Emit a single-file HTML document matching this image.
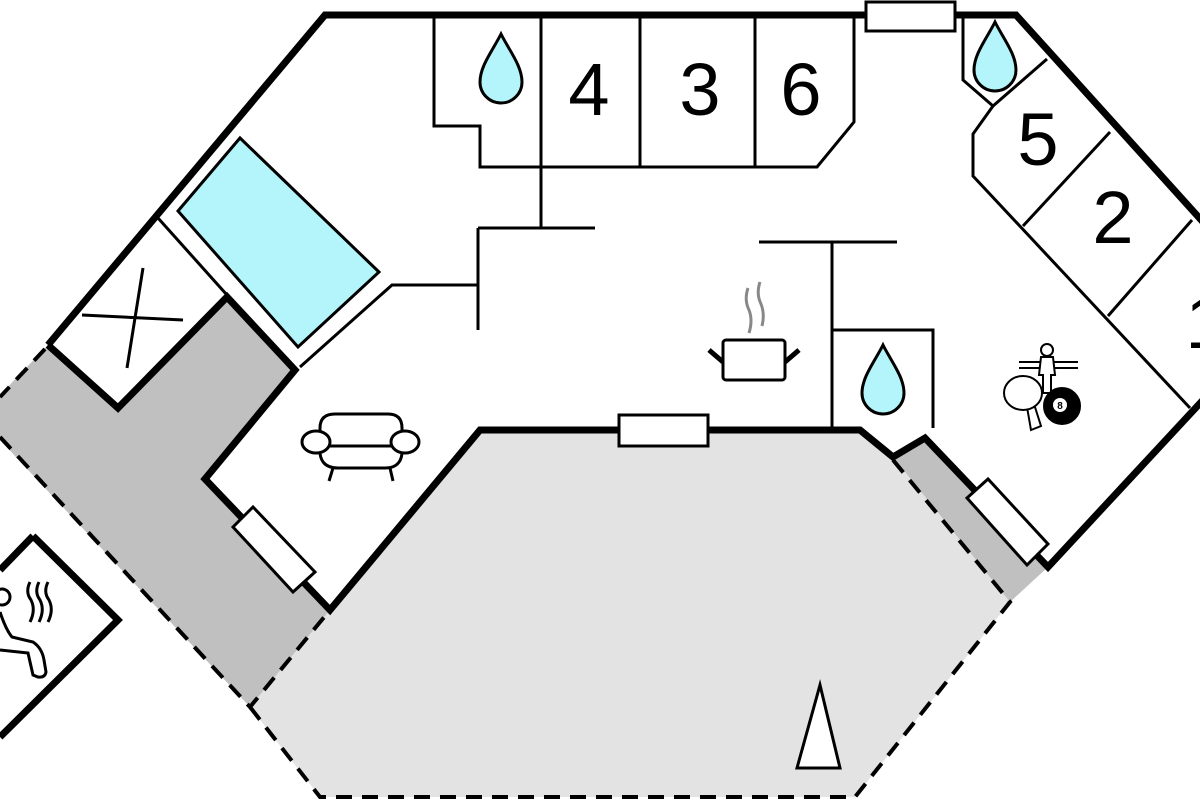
<!DOCTYPE html>
<html><head><meta charset="utf-8"><style>html,body{margin:0;padding:0;background:#fff}svg{display:block}</style></head>
<body>
<svg width="1200" height="800" viewBox="0 0 1200 800" xmlns="http://www.w3.org/2000/svg">
<defs>
<path id="drop" d="M0,-38 C8,-22 21,-6 21,10 A21,21 0 0 1 -21,10 C-21,-6 -8,-22 0,-38 Z"/>
</defs>
<!-- patio light gray -->
<polygon points="480,430 860,430 893,457 1010,602 855,797 320,797 250,707 330,610" fill="#e3e3e3"/>
<!-- dark gray areas -->
<polygon points="0,395 48,345 118,408 227,297 295,370 205,479 330,610 250,707 0,440" fill="#c0c0c0"/>
<polygon points="893,457 925,438 1048,567 1010,602" fill="#c0c0c0"/>
<!-- pool -->
<polygon points="178,211 240,138 379,272 298,347" fill="#b3f5fa" stroke="#000" stroke-width="3"/>
<!-- thin interior lines -->
<g fill="none" stroke="#000" stroke-width="3">
<polyline points="434,15 434,126 480,126 480,167 817,167 854,122 854,15"/>
<line x1="541" y1="15" x2="541" y2="228"/>
<line x1="640" y1="15" x2="640" y2="167"/>
<line x1="755" y1="15" x2="755" y2="167"/>
<line x1="478" y1="228" x2="595" y2="228"/>
<line x1="478" y1="228" x2="478" y2="330"/>
<polyline points="300,367 392,285 478,285"/>
<line x1="759" y1="242" x2="897" y2="242"/>
<line x1="832" y1="242" x2="832" y2="430"/>
<polyline points="832,330 933,330 933,428"/>
<polyline points="963,15 963,80 993,106 1047,59"/>
<polyline points="993,106 973,134 973,176 1190,408"/>
<line x1="1023" y1="226" x2="1110" y2="132"/>
<line x1="1108" y1="316" x2="1192" y2="220"/>
<line x1="158" y1="218" x2="227" y2="295"/>
<line x1="118" y1="408" x2="48" y2="345"/>
<!-- X -->
<line x1="82" y1="315" x2="183" y2="320"/>
<line x1="143" y1="268" x2="127" y2="368"/>
</g>
<!-- thick walls -->
<g fill="none" stroke="#000" stroke-width="7" stroke-linejoin="miter">
<polyline points="48,345 325,15 866,15"/>
<polyline points="955,15 1016,15 1203,222"/>
<polyline points="1203,400 1048,567 925,438 893,457 860,430 480,430 330,610 205,479 295,370 227,297 118,408 48,345"/>
<polyline points="33,536 118,620 0,737"/>
<line x1="33" y1="536" x2="0" y2="570"/>
</g>
<!-- dashed -->
<g fill="none" stroke="#000" stroke-width="4" stroke-dasharray="16,10">
<line x1="45" y1="349" x2="0" y2="397"/>
<polyline points="0,437 250,707 330,610"/>
<polyline points="250,707 320,797 855,797 1010,602 893,460"/>
</g>
<!-- windows/doors -->
<g fill="#fff" stroke="#000" stroke-width="3">
<rect x="866" y="2" width="89" height="29"/>
<rect x="619" y="415" width="89" height="31"/>
<polygon points="967,498 988,479 1048,544 1027,565"/>
<polygon points="233,527 253,507 315,572 293,592"/>
<polygon points="797,768 820,685 840,768"/>
</g>
<!-- drops -->
<g fill="#b3f5fa" stroke="#000" stroke-width="3">
<use href="#drop" transform="translate(501,72)"/>
<use href="#drop" transform="translate(995,60)"/>
<use href="#drop" transform="translate(883,383)"/>
</g>
<!-- numbers -->
<g font-family="Liberation Sans, sans-serif" font-size="74" text-anchor="middle" fill="#000">
<text x="589" y="115">4</text>
<text x="700" y="115">3</text>
<text x="801" y="115">6</text>
<text x="1038" y="165">5</text>
<text x="1113" y="243">2</text>
<text x="1206" y="348">1</text>
</g>
<!-- sofa -->
<g fill="#fff" stroke="#000" stroke-width="3">
<path d="M320,440 L320,428 Q320,414 335,414 L388,414 Q402,414 402,428 L402,440"/>
<path d="M320,446 Q318,468 338,468 L385,468 Q404,468 402,446 Z"/>
<line x1="332" y1="446" x2="392" y2="446"/>
<ellipse cx="316" cy="442" rx="14" ry="11"/>
<ellipse cx="405" cy="442" rx="14" ry="11"/>
<line x1="333" y1="468" x2="329" y2="481"/>
<line x1="390" y1="468" x2="393" y2="481"/>
</g>
<!-- pot -->
<g fill="#fff" stroke="#000" stroke-width="3">
<rect x="723" y="340" width="62" height="40" rx="3"/>
<line x1="709" y1="350" x2="723" y2="362" stroke-width="5"/>
<line x1="799" y1="350" x2="785" y2="362" stroke-width="5"/>
<path d="M748,288 Q744,300 749,310 Q753,320 749,333" fill="none" stroke="#888"/>
<path d="M760,282 Q756,294 761,304 Q765,314 762,326" fill="none" stroke="#888"/>
</g>
<!-- game icons -->
<g stroke="#000" stroke-width="2" fill="#fff">
<line x1="1019" y1="362" x2="1078" y2="362"/>
<line x1="1019" y1="368" x2="1078" y2="368"/>
<circle cx="1047" cy="350" r="6"/>
<path d="M1041,357 L1053,357 L1055,375 L1051,375 L1051,393 L1043,393 L1043,375 L1039,375 Z"/>
<path d="M1027,407 L1034,404 L1041,426 L1031,430 Z"/>
<ellipse cx="1023" cy="393" rx="19" ry="17"/>
<circle cx="1062" cy="406" r="18" fill="#000"/>
<circle cx="1060" cy="405" r="7" fill="#fff" stroke="none"/>
<text x="1060" y="409" font-family="Liberation Sans, sans-serif" font-size="10" font-weight="bold" text-anchor="middle" fill="#000" stroke="none">8</text>
</g>
<!-- sauna icon -->
<g fill="none" stroke="#000" stroke-width="3">
<circle cx="2" cy="597" r="8"/>
<path d="M0,612 Q6,630 12,637 L33,642 Q42,648 44,660 L46,672 Q45,678 38,677 L33,675 L28,653 L0,650"/>
<path d="M30,582 Q25,592 31,600 Q36,610 30,622"/>
<path d="M39,582 Q34,592 40,600 Q45,610 39,622"/>
<path d="M48,582 Q43,592 49,600 Q54,610 48,622"/>
</g>
</svg>
</body></html>
